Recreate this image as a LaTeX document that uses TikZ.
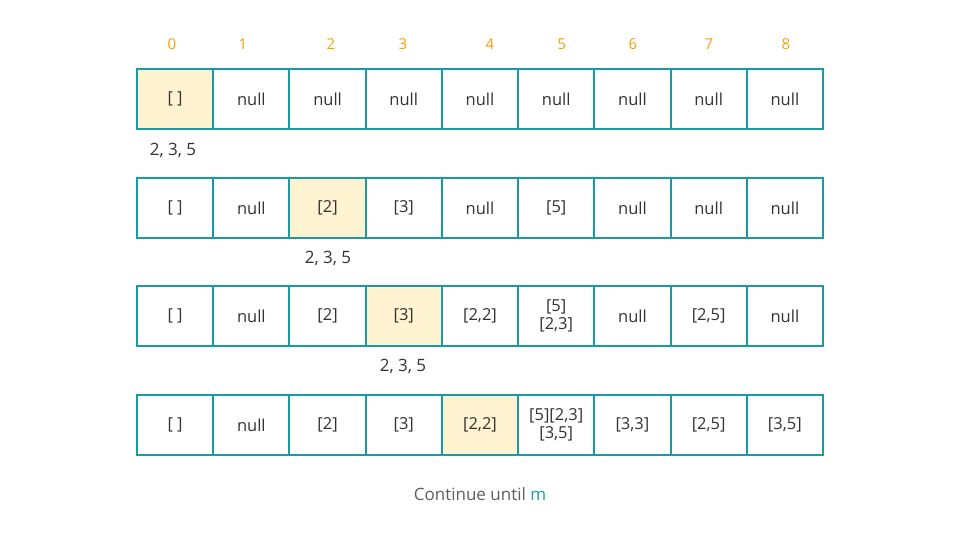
\documentclass[tikz,border=0pt]{standalone}
\usepackage{fontspec}
\setmainfont{Open Sans}
\definecolor{teal1}{HTML}{1A9BA3}
\definecolor{hl}{HTML}{FFF3D2}
\definecolor{txt}{HTML}{333333}
\definecolor{idx}{HTML}{F5A100}
\definecolor{note}{HTML}{5E5E5E}
\tikzset{
  cell/.style={draw=teal1, line width=2pt, minimum width=76.22pt, minimum height=60pt, inner sep=0pt, align=center, text=txt, font=\fontsize{16.5}{18}\selectfont},
  hcell/.style={cell, fill=hl},
  idxlab/.style={text=idx, font=\fontsize{15}{17}\selectfont},
  seq/.style={text=txt, font=\fontsize{17}{19}\selectfont},
}
\begin{document}
\begin{tikzpicture}[x=1pt,y=1pt]
\useasboundingbox (0,0) rectangle (960,540);
% index labels
\foreach \i/\x in {0/172,1/243,2/331,3/403,4/490,5/562,6/633,7/709,8/786}
  \node[idxlab] (idx\i) at (\x,496) {\i};
% row 1
\foreach \i/\t/\s in {0/{[ ]}/hcell,1/null/cell,2/null/cell,3/null/cell,4/null/cell,5/null/cell,6/null/cell,7/null/cell,8/null/cell}
  \node[\s] (a\i) at ({175.11+76.22*\i},441) {\t};
\node[seq] (s1) at (173,390) {2, 3, 5};
% row 2
\foreach \i/\t/\s in {0/{[ ]}/cell,1/null/cell,2/{[2]}/hcell,3/{[3]}/cell,4/null/cell,5/{[5]}/cell,6/null/cell,7/null/cell,8/null/cell}
  \node[\s] (b\i) at ({175.11+76.22*\i},332) {\t};
\node[seq] (s2) at (328,282) {2, 3, 5};
% row 3
\foreach \i/\t/\s in {0/{[ ]}/cell,1/null/cell,2/{[2]}/cell,3/{[3]}/hcell,4/{[2,2]}/cell,5/{[5]\\{}[2,3]}/cell,6/null/cell,7/{[2,5]}/cell,8/null/cell}
  \node[\s] (c\i) at ({175.11+76.22*\i},224) {\t};
\node[seq] (s3) at (403,174) {2, 3, 5};
% row 4
\foreach \i/\t/\s in {0/{[ ]}/cell,1/null/cell,2/{[2]}/cell,3/{[3]}/cell,4/{[2,2]}/hcell,5/{[5][2,3]\\{}[3,5]}/cell,6/{[3,3]}/cell,7/{[2,5]}/cell,8/{[3,5]}/cell}
  \node[\s] (d\i) at ({175.11+76.22*\i},115) {\t};
\node[text=note, font=\fontsize{17}{19}\selectfont] (cont) at (480,46) {Continue until \textcolor{teal1}{m}};
\end{tikzpicture}
\end{document}
